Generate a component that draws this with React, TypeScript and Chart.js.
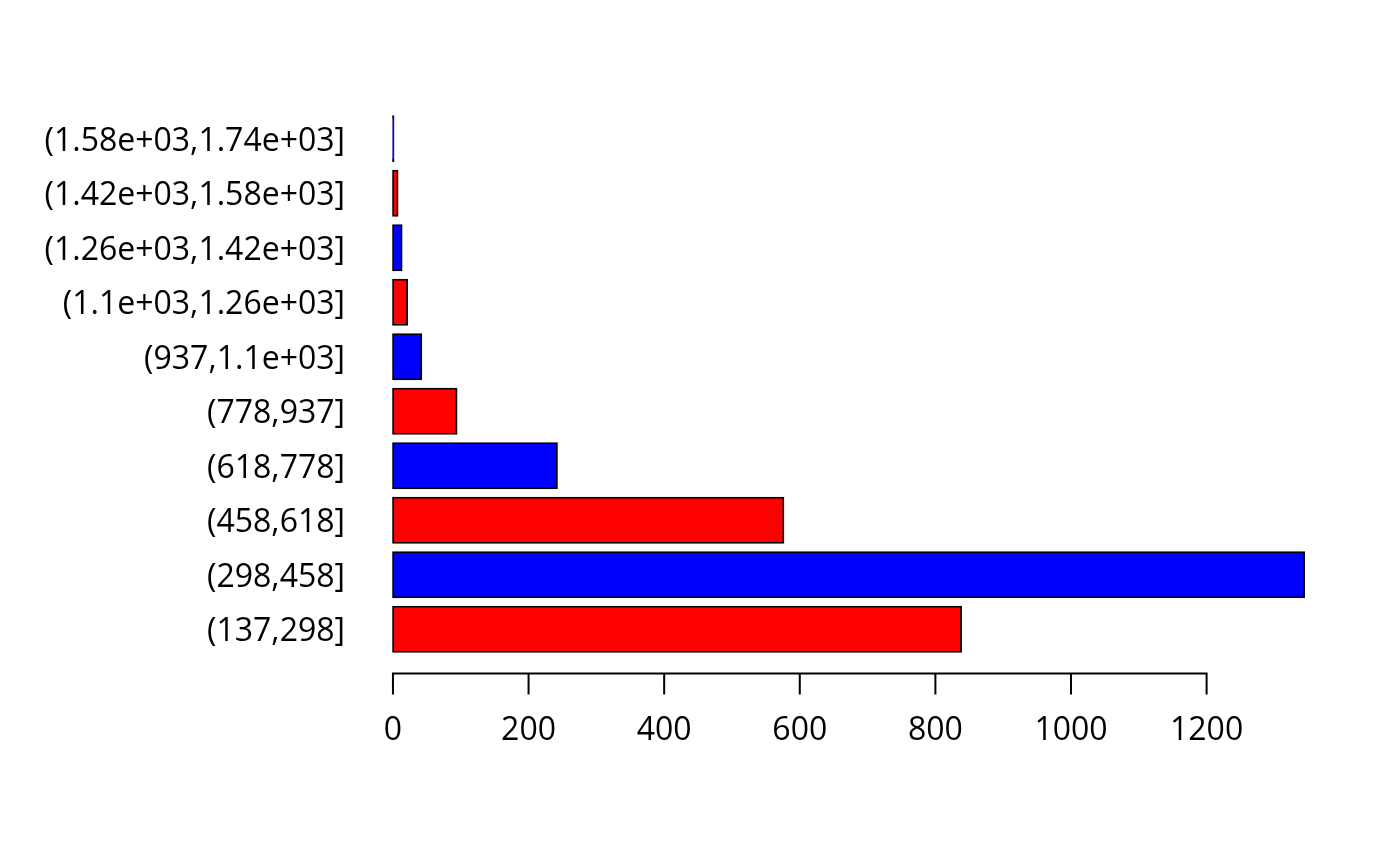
import React, { useEffect, useRef } from "react";
import { Chart, registerables } from "chart.js";

Chart.register(...registerables);

// Categories listed bottom to top, as in the reference
const categories = [
  "(137,298]",
  "(298,458]",
  "(458,618]",
  "(618,778]",
  "(778,937]",
  "(937,1.1e+03]",
  "(1.1e+03,1.26e+03]",
  "(1.26e+03,1.42e+03]",
  "(1.42e+03,1.58e+03]",
  "(1.58e+03,1.74e+03]",
];
const counts = [838, 1344, 576, 242, 94, 42, 21, 13, 7, 1];
const barColors = ["#FF0000", "#0000FF", "#FF0000", "#0000FF", "#FF0000", "#0000FF", "#FF0000", "#0000FF", "#FF0000", "#0000FF"];
const xTicks = [0, 200, 400, 600, 800, 1000, 1200];

const FAMILY = "'Open Sans', 'Noto Sans', sans-serif";

const axisPlugin = {
  id: "rAxis",
  afterDraw(chart: any) {
    const x = chart.scales.x;
    const ctx = chart.ctx;
    const yLine = chart.chartArea.bottom + 16.8;
    const x0 = x.getPixelForValue(xTicks[0]);
    const x1 = x.getPixelForValue(xTicks[xTicks.length - 1]);
    ctx.save();
    ctx.strokeStyle = "#000";
    ctx.lineWidth = 2;
    ctx.lineCap = "square";
    ctx.beginPath();
    ctx.moveTo(x0, yLine);
    ctx.lineTo(x1, yLine);
    xTicks.forEach((t) => {
      const px = x.getPixelForValue(t);
      ctx.moveTo(px, yLine);
      ctx.lineTo(px, yLine + 20);
    });
    ctx.stroke();
    ctx.restore();
  },
};

export default function App() {
  const ref = useRef<HTMLCanvasElement | null>(null);
  useEffect(() => {
    document.body.style.margin = "0";
    const maxV = Math.max(...counts);
    const chart = new Chart(ref.current!, {
      type: "bar",
      data: {
        labels: categories,
        datasets: [
          {
            data: counts,
            backgroundColor: barColors,
            borderColor: "#000000",
            borderWidth: 1.8,
            inflateAmount: 0.8,
            barPercentage: 1,
            categoryPercentage: 0.8333,
            borderSkipped: false,
          },
        ],
      },
      options: {
        indexAxis: "y",
        animation: false,
        responsive: false,
        maintainAspectRatio: false,
        layout: { padding: { top: 111.4, right: 59.3, left: 0, bottom: 0 } },
        plugins: { legend: { display: false }, tooltip: { enabled: false } },
        scales: {
          x: {
            type: "linear",
            min: -0.04 * maxV,
            max: 1.04 * maxV,
            grid: { display: false, drawTicks: false },
            border: { display: false },
            afterBuildTicks: (scale: any) => {
              scale.ticks = xTicks.map((v) => ({ value: v }));
            },
            afterFit: (scale: any) => {
              scale.height = 209.4;
            },
            ticks: {
              color: "#000",
              font: { family: FAMILY, size: 32 },
              padding: 55,
              maxRotation: 0,
              autoSkip: false,
              callback: (v: any) => String(v),
            },
          },
          y: {
            type: "category",
            reverse: true,
            offset: true,
            grid: { display: false, drawTicks: false },
            border: { display: false },
            afterFit: (scale: any) => {
              scale.width = 356.5;
            },
            ticks: {
              color: "#000",
              font: { family: FAMILY, size: 32 },
              padding: 11.5,
              labelOffset: 3,
              autoSkip: false,
            },
          },
        },
      },
      plugins: [axisPlugin],
    } as any);
    return () => chart.destroy();
  }, []);
  return (
    <div style={{ position: "fixed", left: 0, top: 0, width: 1400, height: 866, background: "#fff" }}>
      <canvas ref={ref} width={1400} height={866} style={{ width: 1400, height: 866 }} />
    </div>
  );
}
